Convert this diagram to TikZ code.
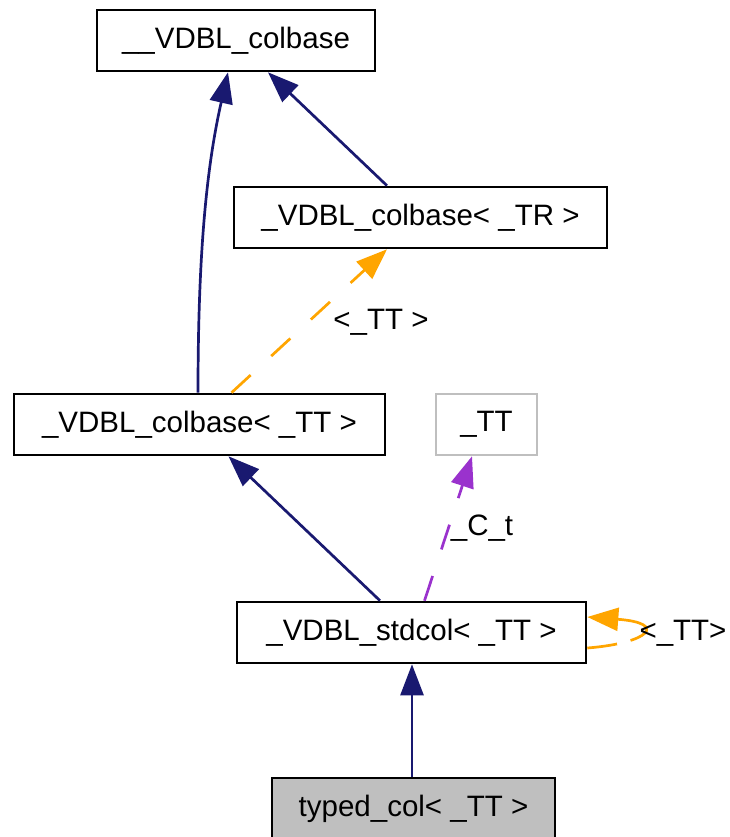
\documentclass[tikz,border=0pt]{standalone}
\usepackage{fontspec}
\setmainfont{Liberation Sans}
\usetikzlibrary{arrows.meta}
\definecolor{navy}{HTML}{191970}
\definecolor{orng}{HTML}{FFA500}
\definecolor{purp}{HTML}{9A32CD}
\definecolor{lgray}{HTML}{BFBFBF}
\begin{document}
\begin{tikzpicture}[x=1pt,y=-1pt,
  box/.style={draw=black,line width=2.6pt,minimum height=61pt,inner sep=0pt,font=\fontsize{29.5}{35}\selectfont},
  lbl/.style={font=\fontsize{29.5}{35}\selectfont,inner sep=0pt},
  tip/.style={-{Triangle[length=31pt,width=23pt]}},
  inh/.style={tip,draw=navy,line width=2.7pt},
  tmpl/.style={tip,draw=orng,line width=2.7pt,dash pattern=on 26pt off 28pt},
  usage/.style={tip,draw=purp,line width=2.7pt,dash pattern=on 26pt off 28pt}]
\useasboundingbox (0,0) rectangle (729,837);
\node[box,minimum width=278pt] (colbase) at (236,40.5) {\_\_VDBL\_colbase};
\node[box,minimum width=373pt] (colbaseTR) at (420.5,217.5) {\_VDBL\_colbase< \_TR >};
\node[box,minimum width=371pt] (colbaseTT) at (199.5,424.5) {\_VDBL\_colbase< \_TT >};
\node[box,draw=lgray,minimum width=101pt] (TT) at (486.5,424.5) {\_TT};
\node[box,minimum width=349pt] (stdcol) at (411.5,632.5) {\_VDBL\_stdcol< \_TT >};
\node[box,fill=lgray,minimum width=283pt] (typed) at (413.5,808.5) {typed\_col< \_TT >};
% inheritance
\draw[inh] ([xshift=-1.5pt]colbaseTT.north) .. controls (198,250) and (207,165) .. ([xshift=-8pt]colbase.south);
\draw[inh] ([xshift=-33.5pt]colbaseTR.north) -- ([xshift=32pt]colbase.south);
\draw[inh] ([xshift=-31.5pt]stdcol.north) -- ([xshift=29pt]colbaseTT.south);
\draw[inh] ([xshift=-1.5pt]typed.north) -- ([xshift=0.5pt]stdcol.south);
% template
\draw[tmpl] ([xshift=32pt]colbaseTT.north) -- ([xshift=-33.5pt]colbaseTR.south);
\node[lbl] (l1) at (381,322) {<\_TT >};
% usage
\draw[usage] ([xshift=13pt]stdcol.north) -- ([xshift=-14.5pt]TT.south);
\node[lbl] (l2) at (482,528) {\_C\_t};
% self loop
\coordinate (s1) at (stdcol.east |- 0,648);
\coordinate (s2) at (stdcol.east |- 0,617);
\draw[tip,draw=orng,line width=2.7pt,dash pattern=on 30pt off 14pt on 80pt] (s1) .. controls (650,643) and (668,623) .. (s2);
\node[lbl] (l3) at (683,633) {<\_TT>};
\end{tikzpicture}
\end{document}
